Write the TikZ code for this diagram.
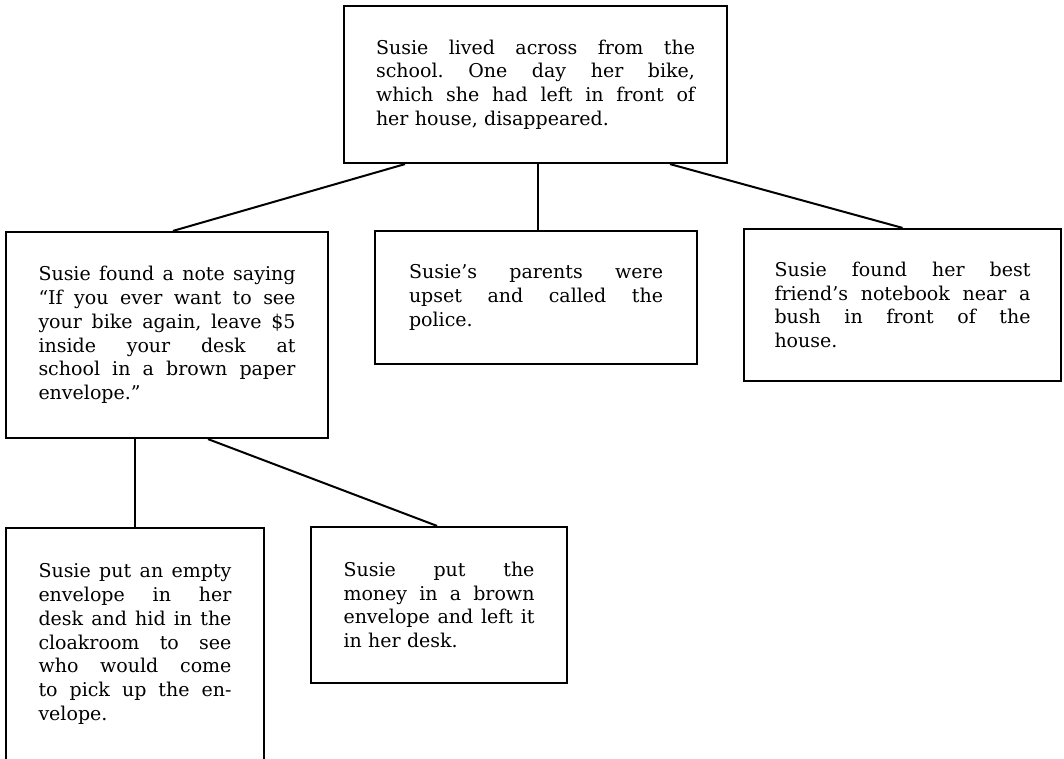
\documentclass[tikz,border=0pt]{standalone}
\usepackage{fontspec}
\setmainfont{DejaVu Serif}
\tikzset{
  box/.style={draw, line width=2.2pt, rectangle, inner sep=0pt, align=left,
    font=\fontsize{19}{23.8}\selectfont\frenchspacing},
  link/.style={line width=2pt},
}
\newcommand\jl[1]{{\spaceskip=0pt\xspaceskip=0pt\makebox[\linewidth][s]{#1}}}
\begin{document}
\begin{tikzpicture}[x=1pt,y=-1pt]
\useasboundingbox (0,0) rectangle (1064,759);
\node[box, text width=319pt, minimum width=383pt, minimum height=157pt] (top) at (535.5,84.5)
  {\jl{Susie lived across from the}\\ \jl{school. One day her bike,}\\ \jl{which she had left in front of}\\ her house, disappeared.};
\node[box, text width=257pt, minimum width=322pt, minimum height=206pt] (left) at (167,335)
  {\jl{Susie found a note saying}\\ \jl{“If you ever want to see}\\ \jl{your bike again, leave \$5}\\ \jl{inside your desk at}\\ \jl{school in a brown paper}\\ envelope.”};
\node[box, text width=254pt, minimum width=322pt, minimum height=133pt] (mid) at (536,297.5)
  {\jl{Susie’s parents were}\\ \jl{upset and called the}\\ police.};
\node[box, text width=256pt, minimum width=317pt, minimum height=152pt] (right) at (902.5,305)
  {\jl{Susie found her best}\\ \jl{friend’s notebook near a}\\ \jl{bush in front of the}\\ house.};
\node[box, text width=193pt, minimum width=258pt, minimum height=232pt] (bl) at (135,644)
  {\jl{Susie put an empty}\\ \jl{envelope in her}\\ \jl{desk and hid in the}\\ \jl{cloakroom to see}\\ \jl{who would come}\\ \jl{to pick up the en-}\\ velope.};
\node[box, text width=191pt, minimum width=256pt, minimum height=156pt] (bm) at (439,605)
  {\jl{Susie put the}\\ \jl{money in a brown}\\ \jl{envelope and left it}\\ in her desk.};
\draw[link] ([xshift=-130.5pt]top.south) -- ([xshift=6pt]left.north);
\draw[link] ([xshift=2.5pt]top.south) -- ([xshift=2pt]mid.north);
\draw[link] ([xshift=134.5pt]top.south) -- (right.north);
\draw[link] ([xshift=-32pt]left.south) -- (bl.north);
\draw[link] ([xshift=41pt]left.south) -- ([xshift=-2pt]bm.north);
\end{tikzpicture}
\end{document}
